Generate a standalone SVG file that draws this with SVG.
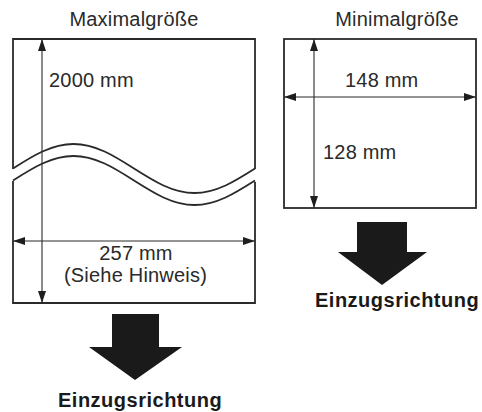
<svg xmlns="http://www.w3.org/2000/svg" width="482" height="412" viewBox="0 0 482 412">
  <defs>
    <style>
      .frame { fill: none; stroke: #2a2a2a; stroke-width: 1.8; }
      .dim { fill: none; stroke: #2a2a2a; stroke-width: 1.1; }
      .head { fill: #1e1e1e; }
      .big { fill: #1a1a1a; }
      .lbl { font-family: "Liberation Sans", Arial, sans-serif; font-size: 20px; fill: #2a2a2a; letter-spacing: 0.2px; }
      .bold { font-family: "Liberation Sans", Arial, sans-serif; font-size: 20px; font-weight: bold; fill: #1a1a1a; letter-spacing: 0.5px; }
    </style>
    <marker id="ah" viewBox="0 0 12 8" refX="12" refY="4" markerWidth="12" markerHeight="8" markerUnits="userSpaceOnUse" orient="auto-start-reverse">
      <path d="M0,0 L12,4 L0,8 Z" class="head"/>
    </marker>
  </defs>
  <rect width="482" height="412" fill="#ffffff"/>

  <g id="max-sheet">
    <text class="lbl" x="134" y="26" text-anchor="middle">Maximalgröße</text>
    <path class="frame" d="M13,169 L13,39 L255,39 L255,169"/>
    <path class="frame" d="M13,181 L13,303 L255,303 L255,182"/>
    <path class="frame" d="M13,168.5 C32.73,155.95 51.61,144 73.5,144 C95.39,144 114.27,155.95 134,168.5 C153.73,181.05 172.61,193 194.5,193 C216.39,193 235.27,181.05 255,168.5"/>
    <path class="frame" d="M13,180.5 C32.73,167.950 51.61,156 73.5,156 C95.39,156 114.27,167.95 134,180.5 C153.73,193.05 172.61,205 194.5,205 C216.39,205 235.27,193.05 255,180.5"/>
    <text class="lbl" x="49" y="87">2000 mm</text>
    <text class="lbl" x="136" y="260" text-anchor="middle">257 mm</text>
    <text class="lbl" x="135.5" y="282" text-anchor="middle">(Siehe Hinweis)</text>
  </g>

  <g id="min-sheet">
    <text class="lbl" x="397" y="26" text-anchor="middle">Minimalgröße</text>
    <rect class="frame" x="284" y="39" width="192" height="169"/>
    <text class="lbl" x="345" y="87">148 mm</text>
    <text class="lbl" x="323" y="159">128 mm</text>
  </g>

  <g id="connectors">
    <line class="dim" x1="42" y1="303" x2="42" y2="39" marker-start="url(#ah)" marker-end="url(#ah)"/>
    <line class="dim" x1="13" y1="241" x2="255" y2="241" marker-start="url(#ah)" marker-end="url(#ah)"/>
    <line class="dim" x1="314" y1="208" x2="314" y2="39" marker-start="url(#ah)" marker-end="url(#ah)"/>
    <line class="dim" x1="284" y1="97" x2="476" y2="97" marker-start="url(#ah)" marker-end="url(#ah)"/>
  </g>

  <g id="feed-left">
    <polygon class="big" points="112,314 159,314 159,347 182,347 135,380 89,347 112,347"/>
    <text class="bold" x="58" y="407">Einzugsrichtung</text>
  </g>

  <g id="feed-right">
    <polygon class="big" points="357,222 407,222 407,252 427,252 382,285 338,252 357,252"/>
    <text class="bold" x="315" y="307">Einzugsrichtung</text>
  </g>
</svg>
